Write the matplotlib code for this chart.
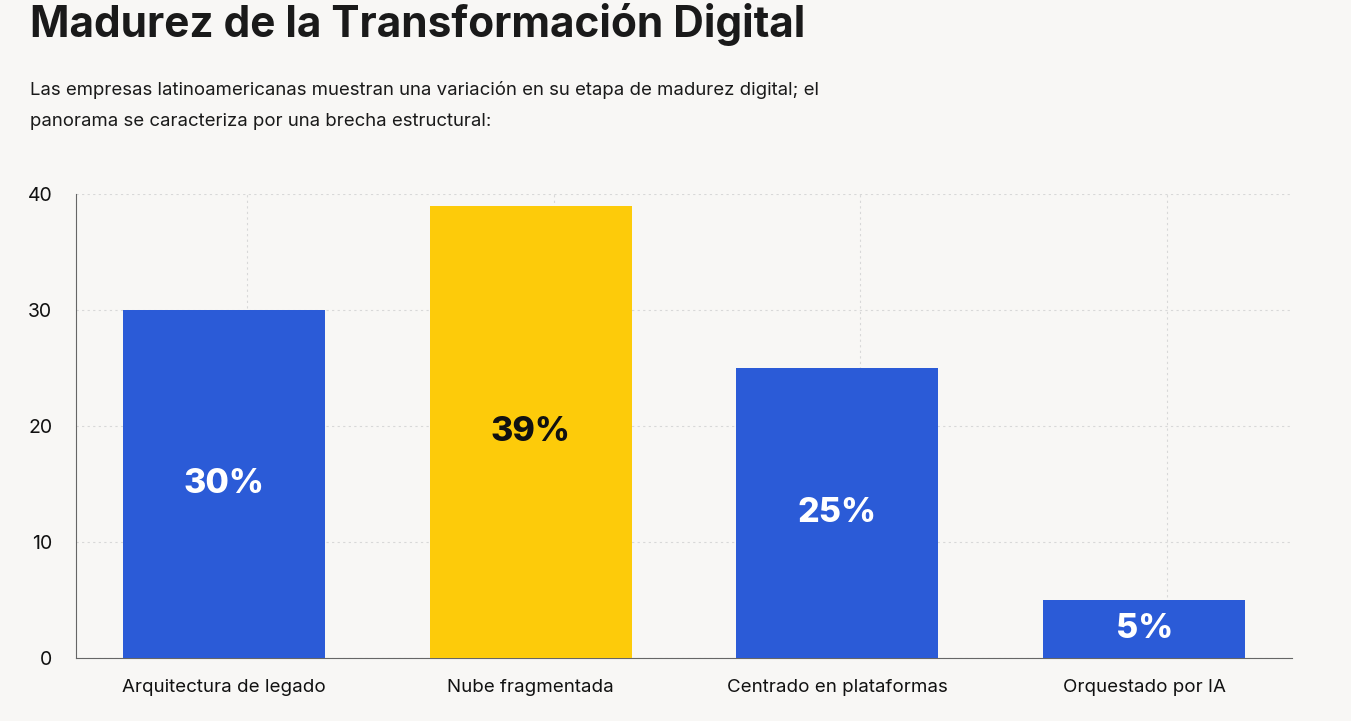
import matplotlib.pyplot as plt

# Chart data
categories = ["Arquitectura de legado", "Nube fragmentada",
              "Centrado en plataformas", "Orquestado por IA"]
values = [30, 39, 25, 5]
bar_colors = ["#2B5BD7", "#FDCB0A", "#2B5BD7", "#2B5BD7"]
label_colors = ["white", "#111111", "white", "white"]
yticks = [0, 10, 20, 30, 40]

bg = "#F8F7F5"
plt.rcParams["font.family"] = ["Inter", "DejaVu Sans"]

fig = plt.figure(figsize=(13.51, 7.21), dpi=100, facecolor=bg)
ax = fig.add_axes([76 / 1351, 1 - 658 / 721, 1216 / 1351, 464 / 721])
ax.set_facecolor(bg)

x = list(range(len(categories)))
bars = ax.bar(x, values, width=0.658, color=bar_colors, zorder=3)

for b, v, c in zip(bars, values, label_colors):
    ax.text(b.get_x() + b.get_width() / 2, v / 2, f"{v}%",
            ha="center", va="center", fontsize=24.5, fontweight="heavy",
            color=c, zorder=4)

ax.set_xlim(-0.482, len(categories) - 1 + 0.482)
ax.set_ylim(0, 40)
ax.set_yticks(yticks)
ax.set_xticks(x)
ax.set_xticklabels(categories, fontsize=13.5, color="#111111")
ax.tick_params(axis="y", length=0, pad=17, labelsize=14, labelcolor="#111111")
ax.tick_params(axis="x", length=0, pad=15)

# grid
ax.grid(axis="y", color="#D8D8D8", linestyle=(0, (2, 3)), linewidth=0.8, zorder=0)
for xi in x:
    ax.axvline(xi + 0.075, color="#D8D8D8", linestyle=(0, (2, 3)),
               linewidth=0.8, zorder=0)

for s in ["top", "right"]:
    ax.spines[s].set_visible(False)
ax.spines["left"].set_color("#666666")
ax.spines["bottom"].set_color("#666666")

fig.text(30 / 1351, 1 - 25 / 721, "Madurez de la Transformación Digital",
         fontsize=30.5, fontweight="bold", color="#1A1A1A", va="center")
fig.text(30 / 1351, 1 - 90 / 721,
         "Las empresas latinoamericanas muestran una variación en su etapa de madurez digital; el",
         fontsize=13.4, color="#1A1A1A", va="center")
fig.text(30 / 1351, 1 - 121 / 721,
         "panorama se caracteriza por una brecha estructural:",
         fontsize=13.4, color="#1A1A1A", va="center")

fig.savefig("out.png", dpi=100, facecolor=bg)
